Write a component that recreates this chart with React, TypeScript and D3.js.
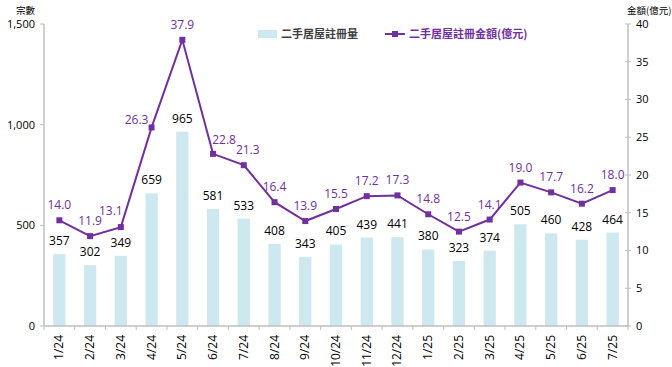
import { useEffect, useRef } from "react";
import * as d3 from "d3";

const months = ["1/24", "2/24", "3/24", "4/24", "5/24", "6/24", "7/24", "8/24", "9/24", "10/24", "11/24", "12/24", "1/25", "2/25", "3/25", "4/25", "5/25", "6/25", "7/25"];
const registrations = [357, 302, 349, 659, 965, 581, 533, 408, 343, 405, 439, 441, 380, 323, 374, 505, 460, 428, 464];
const amounts = [14.0, 11.9, 13.1, 26.3, 37.9, 22.8, 21.3, 16.4, 13.9, 15.5, 17.2, 17.3, 14.8, 12.5, 14.1, 19.0, 17.7, 16.2, 18.0];
const leftTicks = [0, 500, 1000, 1500];
const rightTicks = [0, 5, 10, 15, 20, 25, 30, 35, 40];

const barName = "二手居屋註冊量";
const lineName = "二手居屋註冊金額(億元)";

const W = 672;
const H = 367;
const BAR = "#CDE8EE";
const PURPLE = "#7030A0";
const AXIS = "#BFBFBF";
const FONT = "'Open Sans', 'Noto Sans CJK TC', sans-serif";
const CJK = "'Noto Sans CJK TC', sans-serif";

export default function App() {
  const svgRef = useRef<SVGSVGElement>(null);

  useEffect(() => {
    document.body.style.margin = "0";
    if (!svgRef.current) return;
    const svg = d3.select(svgRef.current);
    svg.selectAll("*").remove();

    const left = 44, right = 628, top = 24, bottom = 326;

    const x = d3.scaleBand<string>().domain(months).range([left, right]).paddingInner(0.6).paddingOuter(0.3);
    const yL = d3.scaleLinear().domain([0, 1500]).range([bottom, top]);
    const yR = d3.scaleLinear().domain([0, 40]).range([bottom, top]);
    const cx = (m: string) => (x(m) ?? 0) + x.bandwidth() / 2;

    // bars
    svg.append("g")
      .selectAll("rect")
      .data(registrations)
      .enter()
      .append("rect")
      .attr("x", (_d, i) => x(months[i]) ?? 0)
      .attr("y", (d) => yL(d))
      .attr("width", x.bandwidth())
      .attr("height", (d) => bottom - yL(d))
      .attr("fill", BAR);

    svg.append("g")
      .selectAll("text")
      .data(registrations)
      .enter()
      .append("text")
      .attr("x", (_d, i) => cx(months[i]))
      .attr("y", (d) => yL(d) - 9)
      .attr("text-anchor", "middle")
      .style("font-family", FONT)
      .style("font-size", "12px")
      .attr("fill", "#000")
      .text((d) => d3.format(",")(d));

    // axes
    const axes = svg.append("g").attr("stroke", AXIS).attr("stroke-width", 1.5);
    axes.append("line").attr("x1", left).attr("x2", left).attr("y1", top).attr("y2", bottom);
    axes.append("line").attr("x1", right).attr("x2", right).attr("y1", top).attr("y2", bottom);
    axes.append("line").attr("x1", left).attr("x2", right).attr("y1", bottom).attr("y2", bottom);
    leftTicks.forEach((t) => {
      axes.append("line").attr("x1", left - 4).attr("x2", left).attr("y1", yL(t)).attr("y2", yL(t)).attr("stroke-width", 1);
    });
    rightTicks.forEach((t) => {
      axes.append("line").attr("x1", right - 3).attr("x2", right + 3).attr("y1", yR(t)).attr("y2", yR(t)).attr("stroke-width", 1);
    });
    d3.range(months.length + 1).forEach((i) => {
      const xx = left + x.step() * i;
      axes.append("line").attr("x1", xx).attr("x2", xx).attr("y1", bottom).attr("y2", bottom + 4).attr("stroke-width", 1);
    });

    svg.append("g")
      .selectAll("text")
      .data(leftTicks)
      .enter()
      .append("text")
      .attr("x", left - 9)
      .attr("y", (d) => yL(d))
      .attr("dy", "0.35em")
      .attr("text-anchor", "end")
      .style("font-family", FONT)
      .style("font-size", "11px")
      .attr("fill", "#000")
      .text((d) => d3.format(",")(d));

    svg.append("g")
      .selectAll("text")
      .data(rightTicks)
      .enter()
      .append("text")
      .attr("x", right + 8)
      .attr("y", (d) => yR(d))
      .attr("dy", "0.35em")
      .style("font-family", FONT)
      .style("font-size", "11px")
      .attr("fill", "#000")
      .text((d) => d);

    svg.append("g")
      .selectAll("text")
      .data(months)
      .enter()
      .append("text")
      .attr("transform", (d) => `translate(${cx(d) + 4},${bottom + 9}) rotate(-90)`)
      .attr("text-anchor", "end")
      .style("font-family", FONT)
      .style("font-size", "12px")
      .attr("fill", "#000")
      .text((d) => d);

    // unit labels
    svg.append("text").attr("x", 16).attr("y", 14).style("font-family", CJK).style("font-size", "9.5px").attr("fill", "#000").text("宗數");
    svg.append("text").attr("x", 627).attr("y", 14).style("font-family", CJK).style("font-size", "9.5px").attr("fill", "#000").text("金額(億元)");

    // line
    const line = d3.line<number>()
      .x((_d, i) => cx(months[i]))
      .y((d) => yR(d));
    svg.append("path")
      .datum(amounts)
      .attr("d", line)
      .attr("fill", "none")
      .attr("stroke", PURPLE)
      .attr("stroke-width", 2);

    svg.append("g")
      .selectAll("rect")
      .data(amounts)
      .enter()
      .append("rect")
      .attr("x", (_d, i) => cx(months[i]) - 3)
      .attr("y", (d) => yR(d) - 3)
      .attr("width", 6)
      .attr("height", 6)
      .attr("fill", PURPLE);

    // label nudges where the line is steep
    const nudge: Record<number, [number, number]> = { 2: [-10, -1], 3: [-15, 8], 5: [11, 1], 6: [4, 0] };
    svg.append("g")
      .selectAll("text")
      .data(amounts)
      .enter()
      .append("text")
      .attr("x", (_d, i) => cx(months[i]) + (nudge[i]?.[0] ?? 0))
      .attr("y", (d, i) => yR(d) - 11 + (nudge[i]?.[1] ?? 0))
      .attr("text-anchor", "middle")
      .style("font-family", FONT)
      .style("font-size", "12px")
      .attr("fill", PURPLE)
      .text((d) => d.toFixed(1));

    // legend
    const lg = svg.append("g");
    lg.append("rect").attr("x", 258).attr("y", 30).attr("width", 19).attr("height", 8).attr("fill", BAR);
    lg.append("text").attr("x", 281).attr("y", 34).attr("dy", "0.35em")
      .style("font-family", CJK).style("font-size", "11px").style("font-weight", "bold")
      .attr("fill", "#404040").text(barName);
    lg.append("line").attr("x1", 385).attr("x2", 405).attr("y1", 34).attr("y2", 34).attr("stroke", PURPLE).attr("stroke-width", 2);
    lg.append("rect").attr("x", 392).attr("y", 31).attr("width", 6).attr("height", 6).attr("fill", PURPLE);
    lg.append("text").attr("x", 409).attr("y", 34).attr("dy", "0.35em")
      .style("font-family", CJK).style("font-size", "11px").style("font-weight", "bold")
      .attr("fill", PURPLE).text(lineName);
  }, []);

  return <svg ref={svgRef} width={W} height={H} style={{ display: "block", background: "#fff" }} />;
}
